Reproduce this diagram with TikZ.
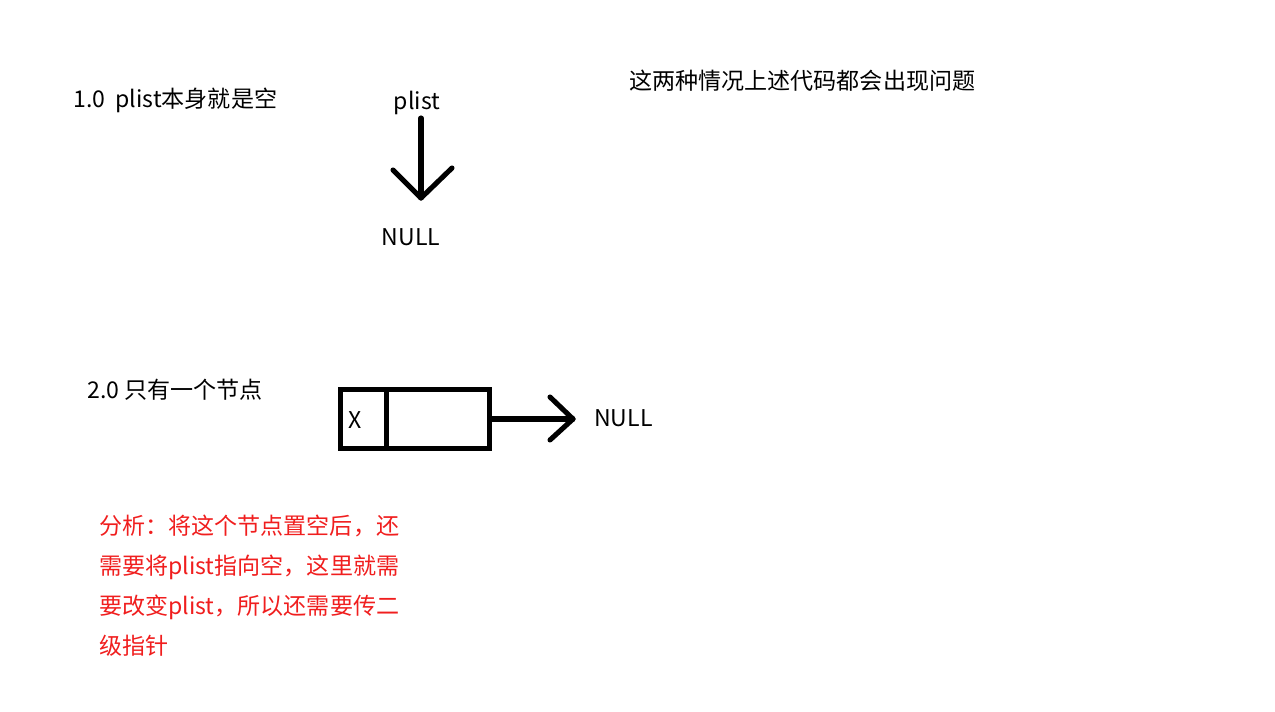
\documentclass[tikz,border=0pt]{standalone}
\usepackage{fontspec}
\setmainfont{Noto Sans CJK SC}
\definecolor{notered}{RGB}{240,30,30}
\begin{document}
\begin{tikzpicture}[x=0.75pt,y=-0.75pt,
  txt/.style={font=\fontsize{17.3}{20}\selectfont, inner sep=0pt},
  thick line/.style={line width=3.8pt, line cap=round, line join=round},
  boxline/.style={line width=3.8pt, line join=miter}]
\useasboundingbox (0,0) rectangle (1275,711);
% title
\node[txt, anchor=west] (t1) at (629,81) {这两种情况上述代码都会出现问题};
% case 1
\node[txt, anchor=west] (c1) at (73,100) {1.0\ \ plist本身就是空};
\node[txt] (p1) at (417,103) {plist};
\node[txt] (n1) at (411,237) {NULL};
\coordinate (a1s) at (421,118);
\coordinate (a1e) at (421,198);
\draw[thick line] (a1s) -- (a1e);
\draw[thick line] (393,170) -- (a1e) -- (452,168);
% case 2
\node[txt, anchor=west] (c2) at (87,390) {2.0 只有一个节点};
\node[draw, boxline, minimum width=112.1pt, minimum height=44.2pt, inner sep=0pt] (box) at (415,419) {};
\draw[boxline] (box.north west) ++(48.5,0) coordinate (d1) -- (d1 |- box.south);
\node[txt] (x) at (355,420) {X};
\node[txt, anchor=west] (n2) at (594,418) {NULL};
\coordinate (a2e) at (573,419);
\draw[thick line] (box.east) -- (a2e);
\draw[thick line] (550,397) -- (a2e) -- (550,440);
% analysis
\node[txt, anchor=north west, align=left, text=notered, font=\fontsize{17.3}{30}\selectfont] (an) at (99,515)
{分析：将这个节点置空后，还\\需要将plist指向空，这里就需\\要改变plist，所以还需要传二\\级指针};
\end{tikzpicture}
\end{document}
